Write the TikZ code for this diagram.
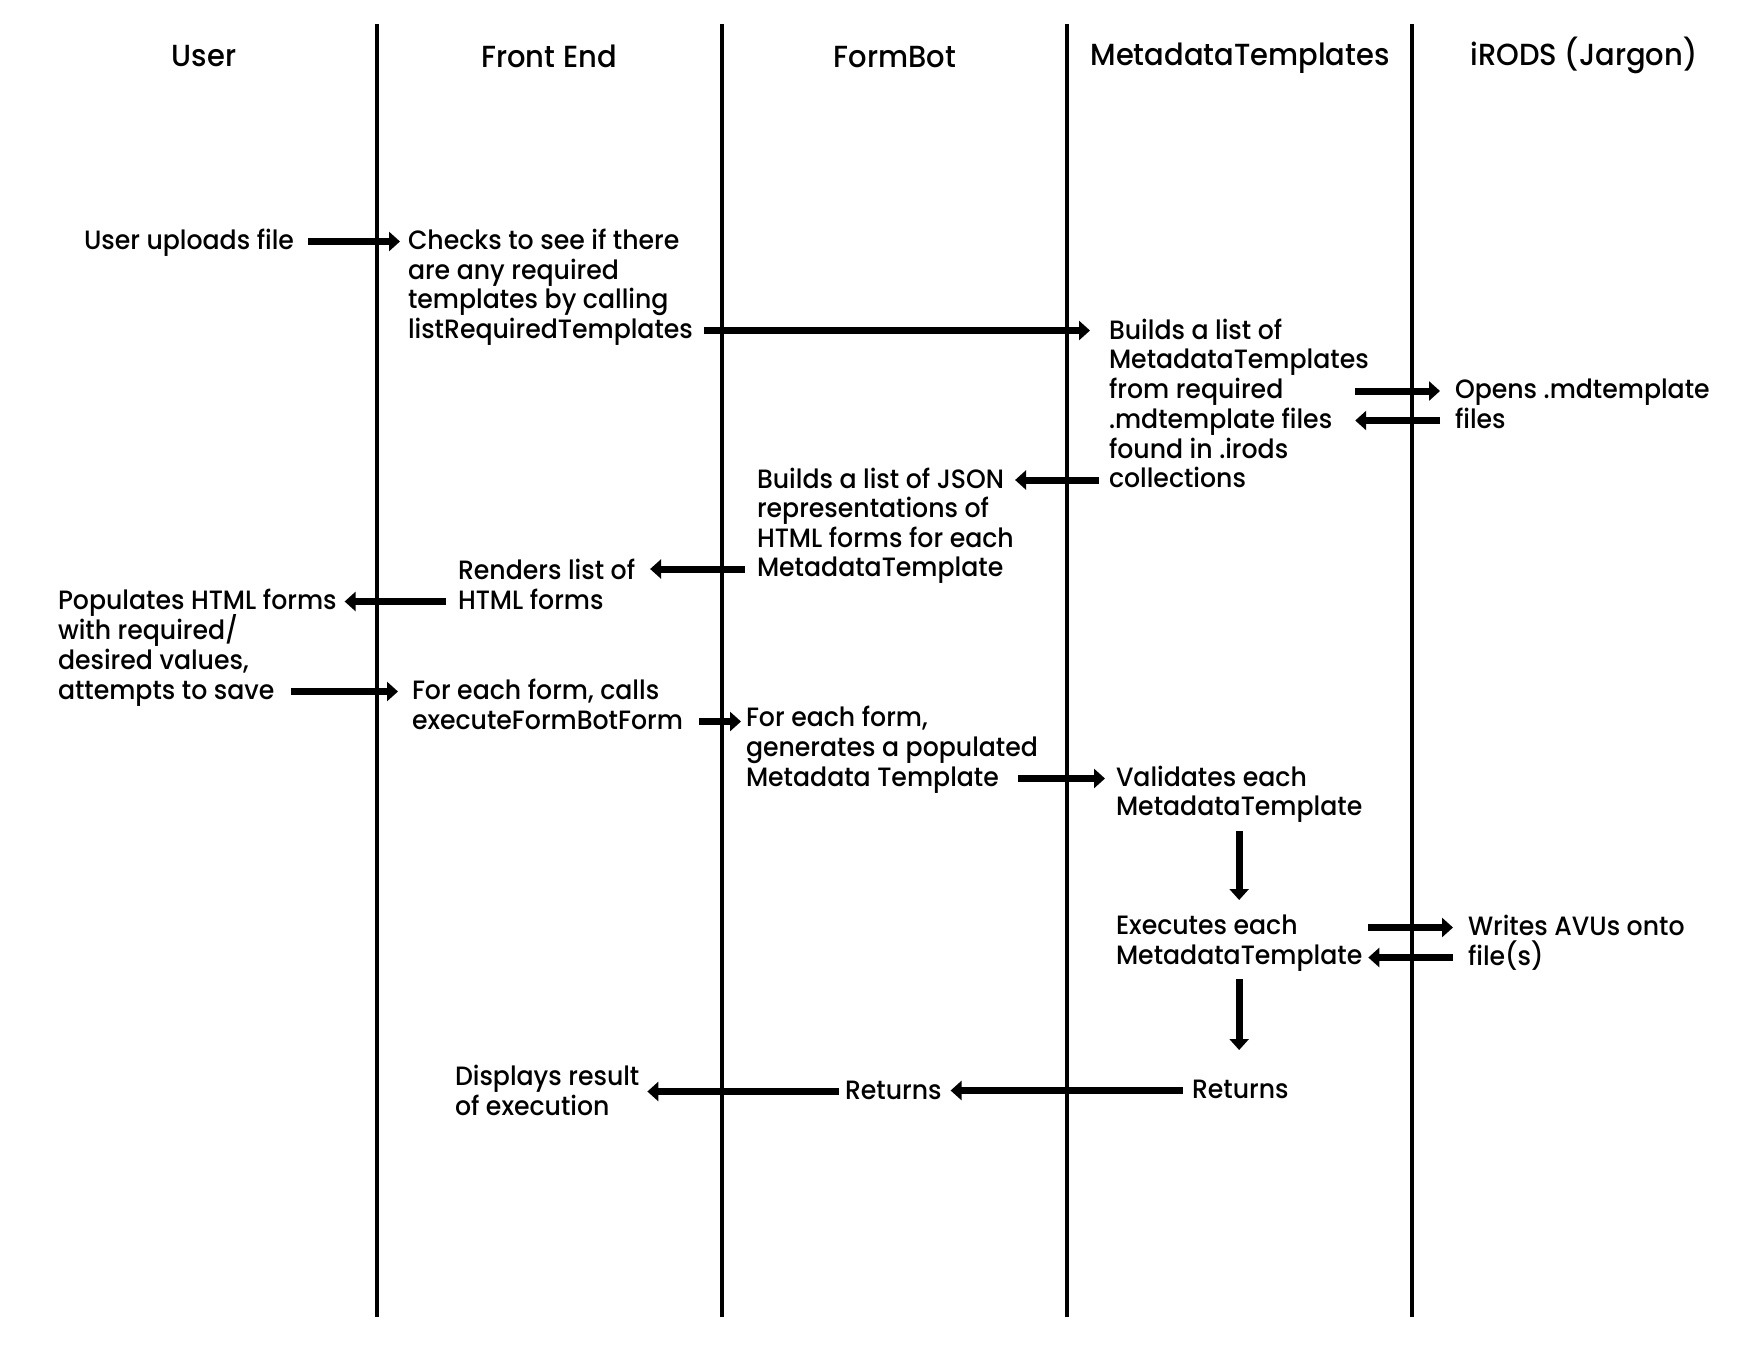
\documentclass[tikz,border=0pt]{standalone}
\usepackage{fontspec}
\setmainfont{Poppins}[UprightFont=* Medium, FakeStretch=0.95]
\usetikzlibrary{arrows.meta}
\begin{document}
\begin{tikzpicture}[x=1pt,y=-1pt,
  txt/.style={anchor=base west, inner sep=0pt, outer sep=0pt,
    font=\fontsize{26.5}{29.7}\selectfont, text height=20pt, text depth=5pt},
  hdr/.style={anchor=base, inner sep=0pt, font=\fontsize{30.5}{34}\selectfont},
  life/.style={line width=3.5pt},
  arr/.style={line width=7pt, -{Triangle[length=11pt,width=19pt]}}]
\useasboundingbox[fill=white] (0,0) rectangle (1750,1350);

% headers
\node[hdr] (hUser)  at (204,66) {User};
\node[hdr] (hFront) at (549,67) {Front End};
\node[hdr] (hForm)  at (895,67) {FormBot};
\node[hdr] (hMeta)  at (1240,65) {MetadataTemplates};
\node[hdr] (hIrods) at (1584,65) {iRODS (Jargon)};

% lifelines
\coordinate (l1t) at (377,24);  \coordinate (l1b) at (377,1317);
\coordinate (l2t) at (722,24);  \coordinate (l2b) at (722,1317);
\coordinate (l3t) at (1067,24); \coordinate (l3b) at (1067,1317);
\coordinate (l4t) at (1412,24); \coordinate (l4b) at (1412,1317);
\draw[life] (l1t) -- (l1b);
\draw[life] (l2t) -- (l2b);
\draw[life] (l3t) -- (l3b);
\draw[life] (l4t) -- (l4b);

% texts
\node[txt] (upl)  at (84,249) {User uploads file};
\node[txt] (chk1) at (408,249) {Checks to see if there};
\node[txt] (chk2) at (408,279) {are any required};
\node[txt] (chk3) at (408,308.5) {templates by calling};
\node[txt] (chk4) at (408,338) {listRequiredTemplates};
\node[txt] (bml1) at (1109,339) {Builds a list of};
\node[txt] (bml2) at (1109,368.5) {MetadataTemplates};
\node[txt] (bml3) at (1109,398) {from required};
\node[txt] (bml4) at (1109,428) {.mdtemplate files};
\node[txt] (bml5) at (1109,458) {found in .irods};
\node[txt] (bml6) at (1109,487.5) {collections};
\node[txt] (opn1) at (1455,398.5) {Opens .mdtemplate};
\node[txt] (opn2) at (1455,428) {files};
\node[txt] (jsn1) at (757,488) {Builds a list of JSON};
\node[txt] (jsn2) at (757,517.5) {representations of};
\node[txt] (jsn3) at (757,547) {HTML forms for each};
\node[txt] (jsn4) at (757,576.5) {MetadataTemplate};
\node[txt] (rnd1) at (458,579) {Renders list of};
\node[txt] (rnd2) at (458,609) {HTML forms};
\node[txt] (pop1) at (58,609) {Populates HTML forms};
\node[txt] (pop2) at (58,639) {with required/};
\node[txt] (pop3) at (58,669) {desired values,};
\node[txt] (pop4) at (58,699) {attempts to save};
\node[txt] (efc1) at (412,699) {For each form, calls};
\node[txt] (efc2) at (412,729) {executeFormBotForm};
\node[txt] (gen1) at (746,726) {For each form,};
\node[txt] (gen2) at (746,756) {generates a populated};
\node[txt] (gen3) at (746,786) {Metadata Template};
\node[txt] (val1) at (1116,786) {Validates each};
\node[txt] (val2) at (1116,815) {MetadataTemplate};
\node[txt] (exe1) at (1116,934) {Executes each};
\node[txt] (exe2) at (1116,964) {MetadataTemplate};
\node[txt] (wrt1) at (1468,935) {Writes AVUs onto};
\node[txt] (wrt2) at (1468,965) {file(s)};
\node[txt] (retm) at (1192,1098) {Returns};
\node[txt] (retf) at (845,1099) {Returns};
\node[txt] (dsp1) at (455,1085) {Displays result};
\node[txt] (dsp2) at (455,1115) {of execution};

% arrows
\draw[arr, shorten <=14pt, shorten >=8pt] (upl.east) -- (chk1.west);
\draw[arr, shorten <=11pt, shorten >=19pt] (chk4.east) -- (chk4.east -| bml1.west);
\draw[arr, shorten <=23pt, shorten >=15pt] (bml4.east |- opn1.west) -- (opn1.west);
\draw[arr, shorten <=15pt, shorten >=23pt] (opn2.west) -- (opn2.west -| bml4.east);
\draw[arr, shorten <=10pt, shorten >=11pt] (bml6.west) -- (bml6.west -| jsn1.east);
\draw[arr, shorten <=12pt, shorten >=15pt] (jsn4.west) -- (jsn4.west -| rnd1.east);
\draw[arr, shorten <=12pt, shorten >=8pt] (rnd2.west) -- (pop1.east);
\draw[arr, shorten <=17pt, shorten >=14pt] (pop4.east) -- (efc1.west);
\draw[arr, shorten <=16pt, shorten >=5pt] (efc2.east) -- (efc2.east -| gen1.west);
\draw[arr, shorten <=19pt, shorten >=11pt] (gen3.east) -- (val1.west);
\draw[arr, shorten <=11pt, shorten >=14pt] (val2.south) -- (val2.south |- exe1.north);
\draw[arr, shorten <=6pt, shorten >=15pt] (exe2.east |- wrt1.west) -- (wrt1.west);
\draw[arr, shorten <=15pt, shorten >=6pt] (wrt2.west) -- (wrt2.west -| exe2.east);
\draw[arr, shorten <=10pt, shorten >=28pt] (exe2.south) -- (exe2.south |- retm.north);
\draw[arr, shorten <=9pt, shorten >=9pt] (retm.west) -- (retm.west -| retf.east);
\draw[arr, shorten <=6pt, shorten >=8pt] (retf.west) -- (retf.west -| dsp1.east);
\end{tikzpicture}
\end{document}
